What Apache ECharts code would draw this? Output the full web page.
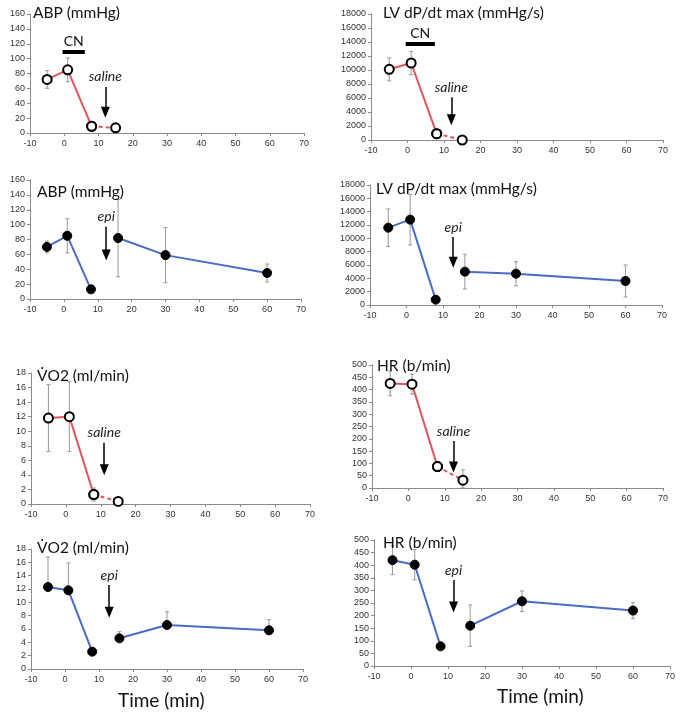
<!DOCTYPE html>
<html>
<head>
<meta charset="utf-8">
<title>CN saline / epi</title>
<script src="https://cdn.jsdelivr.net/npm/echarts@6/dist/echarts.min.js"></script>
<style>
  body { margin: 0; background: #fff; }
  #chart { width: 682px; height: 713px; }
</style>
</head>
<body>
<div id="chart"></div>
<script>
// time points (min)
const timesSaline = [-5, 1, 8, 15];
const timesEpi = [-5, 1, 8, 16, 30, 60];
const xTicks = [-10, 0, 10, 20, 30, 40, 50, 60, 70];

// saline group (open circles, red)
const abpSaline = [72, 85, 9, 7];
const abpSalineSd = [12, 16, 0, 0];
const dpdtSaline = [10100, 11000, 900, 0];
const dpdtSalineSd = [1650, 1650, 0, 0];
const vo2Saline = [11.8, 12.0, 1.3, 0.35];
const vo2SalineSd = [4.6, 4.8, 0.9, 0];
const hrSaline = [425, 422, 87, 32];
const hrSalineSd = [50, 40, 0, 42];

// epi group (filled circles, blue)
const abpEpi = [70, 85, 13, 82, 59, 35];
const abpEpiSd = [8, 23, 0, 52, 37, 12];
const dpdtEpi = [11600, 12800, 800, 5000, 4700, 3600];
const dpdtEpiSd = [2800, 3800, 0, 2600, 1800, 2400];
const vo2Epi = [12.3, 11.8, 2.6, 4.6, 6.6, 5.8];
const vo2EpiSdUp = [4.5, 4.1, 0.4, 1.0, 2.0, 1.6];
const hrEpi = [420, 402, 78, 160, 257, 220];
const hrEpiSd = [57, 60, 0, 82, 41, 32];

const RED = '#e2545c';
const BLUE = '#4a6cc8';
const TXT = 'Lato';

const panels = [
  { grid: { left: 30, right: 378, top: 14, height: 119 }, yMax: 160, yInt: 20, title: 'ABP (mmHg)', tPos: [33, 5],
    x: timesSaline, y: abpSaline, lo: abpSalineSd, hi: abpSalineSd, kind: 'saline', arrow: [12, 62, 28], cn: [-0.5, 6, 109] },
  { grid: { left: 371, right: 19, top: 14, height: 126 }, yMax: 18000, yInt: 2000, title: 'LV dP/dt max (mmHg/s)', tPos: [383, 5],
    x: timesSaline, y: dpdtSaline, lo: dpdtSalineSd, hi: dpdtSalineSd, kind: 'saline', arrow: [12, 6100, 2900], cn: [-0.5, 7.5, 13800] },
  { grid: { left: 30, right: 381, top: 180, height: 119 }, yMax: 160, yInt: 20, title: 'ABP (mmHg)', tPos: [37, 184],
    x: timesEpi, y: abpEpi, lo: abpEpiSd, hi: abpEpiSd, kind: 'epi', arrow: [12.5, 97, 59] },
  { grid: { left: 370, right: 20, top: 185, height: 120 }, yMax: 18000, yInt: 2000, title: 'LV dP/dt max (mmHg/s)', tPos: [376, 181],
    x: timesEpi, y: dpdtEpi, lo: dpdtEpiSd, hi: dpdtEpiSd, kind: 'epi', arrow: [12.8, 10200, 6400] },
  { grid: { left: 31, right: 372, top: 373, height: 131 }, yMax: 18, yInt: 2, title: 'V\u0307O2 (ml/min)', tPos: [37, 368],
    x: timesSaline, y: vo2Saline, lo: vo2SalineSd, hi: vo2SalineSd, kind: 'saline', arrow: [11, 8.4, 4.7] },
  { grid: { left: 372, right: 19, top: 365, height: 123 }, yMax: 500, yInt: 50, title: 'HR (b/min)', tPos: [377, 358],
    x: timesSaline, y: hrSaline, lo: hrSalineSd, hi: hrSalineSd, kind: 'saline', arrow: [12.4, 191, 85] },
  { grid: { left: 31, right: 379, top: 549, height: 120 }, yMax: 18, yInt: 2, title: 'V\u0307O2 (ml/min)', tPos: [37, 540],
    x: timesEpi, y: vo2Epi, lo: vo2EpiSdUp.map(() => 0), hi: vo2EpiSdUp, kind: 'epi', arrow: [13, 12.6, 8.5] },
  { grid: { left: 374, right: 12, top: 540, height: 126 }, yMax: 500, yInt: 50, title: 'HR (b/min)', tPos: [383, 535],
    x: timesEpi, y: hrEpi, lo: hrEpiSd, hi: hrEpiSd, kind: 'epi', arrow: [11.5, 341, 234] }
];

const grids = [], xAxes = [], yAxes = [], series = [], titles = [];

panels.forEach((p, i) => {
  grids.push(p.grid);
  xAxes.push({
    type: 'value', gridIndex: i, min: xTicks[0], max: xTicks[xTicks.length - 1], interval: 10,
    axisLine: { onZero: false, lineStyle: { color: '#8a8a8a', width: 1 } },
    axisTick: { inside: false, length: 3, lineStyle: { color: '#8a8a8a' } },
    axisLabel: { color: '#333', fontSize: 9, fontFamily: 'Liberation Sans', margin: 6 },
    splitLine: { show: false }
  });
  yAxes.push({
    type: 'value', gridIndex: i, min: 0, max: p.yMax, interval: p.yInt,
    axisLine: { show: true, onZero: false, lineStyle: { color: '#8a8a8a', width: 1 } },
    axisTick: { show: true, length: 3, lineStyle: { color: '#8a8a8a' } },
    axisLabel: { color: '#333', fontSize: 9, fontFamily: 'Liberation Sans', margin: 5, formatter: v => String(v) },
    splitLine: { show: false }
  });
  titles.push({
    text: p.title, left: p.tPos[0], top: p.tPos[1], padding: 0,
    textStyle: { fontFamily: TXT, fontSize: 15.5, fontWeight: 'normal', color: '#111' }
  });

  const pts = p.x.map((t, k) => [t, p.y[k]]);
  const bars = p.x.map((t, k) => [t, p.y[k], p.y[k] - p.lo[k], p.y[k] + p.hi[k]]);
  const open = p.kind === 'saline';
  const col = open ? RED : BLUE;
  const sym = {
    symbol: 'circle', symbolSize: 9,
    itemStyle: open ? { color: '#fff', borderColor: '#000', borderWidth: 2 } : { color: '#000', borderColor: '#000', borderWidth: 1 }
  };

  // error bars
  series.push({
    type: 'custom', xAxisIndex: i, yAxisIndex: i, z: 1, silent: true,
    data: bars.filter(b => b[3] - b[2] > 0),
    renderItem: (params, api) => {
      const top = api.coord([api.value(0), api.value(3)]);
      const bot = api.coord([api.value(0), Math.max(api.value(2), 0)]);
      const st = { stroke: '#9f9f9f', lineWidth: 1.1 };
      return {
        type: 'group',
        children: [
          { type: 'line', shape: { x1: top[0], y1: top[1], x2: bot[0], y2: bot[1] }, style: st },
          { type: 'line', shape: { x1: top[0] - 2, y1: top[1], x2: top[0] + 2, y2: top[1] }, style: st },
          { type: 'line', shape: { x1: bot[0] - 2, y1: bot[1], x2: bot[0] + 2, y2: bot[1] }, style: st }
        ]
      };
    }
  });

  const markData = [[
    { coord: [p.arrow[0], p.arrow[1]], label: { show: true, position: 'start', formatter: open ? 'saline' : 'epi',
      fontStyle: 'italic', fontFamily: TXT, fontSize: 14, color: '#222', distance: 3 } },
    { coord: [p.arrow[0], p.arrow[2]] }
  ]];
  if (p.cn) {
    markData.push([
      { coord: [p.cn[0], p.cn[2]], symbol: 'none', lineStyle: { width: 4, color: '#000', type: 'solid' },
        label: { show: true, position: 'middle', formatter: 'CN', fontFamily: TXT, fontSize: 14, color: '#111', distance: 3 } },
      { coord: [p.cn[1], p.cn[2]], symbol: 'none' }
    ]);
  }

  // first segment (baseline -> 8 min)
  series.push(Object.assign({
    type: 'line', xAxisIndex: i, yAxisIndex: i, z: 3, data: pts.slice(0, 3),
    lineStyle: { color: col, width: 2 },
    markLine: {
      silent: true, animation: false, symbol: ['none', 'triangle'], symbolSize: [9, 11],
      lineStyle: { color: '#000', width: 1.5, type: 'solid' },
      label: { show: false },
      data: markData
    }
  }, sym));

  // second segment
  series.push(Object.assign({
    type: 'line', xAxisIndex: i, yAxisIndex: i, z: 3,
    data: open ? pts.slice(2) : pts.slice(3),
    lineStyle: { color: col, width: 2, type: open ? [4, 3] : 'solid' }
  }, sym));
});

const chart = echarts.init(document.getElementById('chart'));
chart.setOption({
  animation: false,
  backgroundColor: '#fff',
  title: titles,
  grid: grids,
  xAxis: xAxes,
  yAxis: yAxes,
  series: series,
  graphic: [
    { type: 'text', left: 118, top: 691, style: { text: 'Time (min)', font: '19px Lato', fill: '#111' } },
    { type: 'text', left: 497, top: 687, style: { text: 'Time (min)', font: '19px Lato', fill: '#111' } }
  ]
});
</script>
</body>
</html>
